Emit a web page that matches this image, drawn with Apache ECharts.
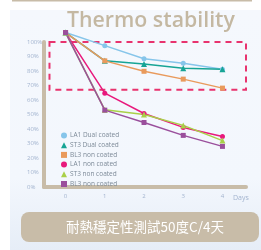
<!DOCTYPE html>
<html>
<head>
<meta charset="utf-8">
<script src="https://cdn.jsdelivr.net/npm/echarts@6.0.0/dist/echarts.min.js"></script>
<style>
  html, body { margin: 0; padding: 0; background: #fff; }
  #chart { width: 261px; height: 250px; }
</style>
</head>
<body>
<div id="chart"></div>
<script>
// 数据
const days = [0, 1, 2, 3, 4];
const yTicks = [0, 10, 20, 30, 40, 50, 60, 70, 80, 90, 100];
const seriesNames = ['LA1 Dual coated', 'ST3 Dual coated', 'BL3 non coated', 'LA1 non coated', 'ST3 non coated', 'BL3 non coated '];
const la1Dual = [106.5, 97.5, 88.5, 85.4, 81.2];
const st3Dual = [106.5, 87, 84.9, 81.9, 81.2];
const bl3Orange = [106.5, 87, 79.8, 74.4, 68.2];
const la1Non = [106.5, 64.7, 50.7, 41.1, 34.9];
const st3Non = [106.5, 53.2, 50.0, 42.5, 32];
const bl3Non = [106.5, 53, 44.5, 35.6, 28];
const highlightBox = [[-0.41, 106.5], [4.6, 67]];

const tan = '#c8bca8';
const colors = ['#86c5ea', '#17a495', '#e99a5c', '#e8197c', '#a9d048', '#9a4f9c'];
const symbols = ['circle', 'triangle', 'rect', 'circle', 'triangle', 'rect'];
const allData = [la1Dual, st3Dual, bl3Orange, la1Non, st3Non, bl3Non];

const chart = echarts.init(document.getElementById('chart'));

const series = allData.map((vals, i) => {
    const s = {
        name: seriesNames[i],
        type: 'line',
        data: days.map((d, j) => [d, vals[j]]),
        symbol: symbols[i],
        symbolSize: symbols[i] === 'triangle' ? 6 : 5,
        clip: false,
        lineStyle: { width: 1.5, color: colors[i] },
        itemStyle: { color: colors[i] },
        emphasis: { disabled: true }
    };
    if (i === 0) {
        s.markArea = {
            silent: true,
            label: { show: false },
            itemStyle: { color: 'rgba(0,0,0,0)', borderColor: '#e8336e', borderWidth: 2, borderType: [6, 5] },
            data: [[{ coord: highlightBox[0] }, { coord: highlightBox[1] }]]
        };
    }
    return s;
});

chart.setOption({
    animation: false,
    textStyle: { fontFamily: 'Open Sans' },
    graphic: [
        { type: 'rect', z: -10, shape: { x: 10, y: 10, width: 251, height: 240 },
          style: { fill: new echarts.graphic.LinearGradient(0, 0, 0, 1, [{ offset: 0, color: '#f5f8fd' }, { offset: 0.7, color: '#f3f7fd' }, { offset: 1, color: '#e6edf7' }]) } },
        { type: 'rect', z: -10, shape: { x: 12, y: 0, width: 240, height: 1.5 }, style: { fill: tan } },
        { type: 'rect', shape: { x: 21, y: 212, width: 238, height: 30, r: 8 }, style: { fill: tan } },
        { type: 'text', x: 145, y: 227, style: { text: '耐熱穩定性測試50度C/4天', fill: '#fff', font: '13.5px "Noto Sans CJK TC"', align: 'center', verticalAlign: 'middle' } }
    ],
    title: {
        text: 'Thermo stability', left: 62, top: 5,
        textStyle: { color: '#c4b8a2', fontSize: 21.3, fontWeight: 600, fontFamily: 'Open Sans' }
    },
    legend: {
        orient: 'vertical', left: 56, top: 127,
        itemWidth: 6, itemHeight: 6, itemGap: 2.7,
        textStyle: { fontSize: 6.5, color: '#7d8a98', padding: [0, 0, 0, -2] },
        data: seriesNames.map((n, i) => ({ name: n, icon: symbols[i] }))
    },
    grid: { left: 44, right: 15, top: 42, bottom: 63, containLabel: false },
    xAxis: {
        type: 'value', min: -0.55, max: 4.6, position: 'bottom',
        name: 'Days', nameLocation: 'end', nameGap: -13,
        nameTextStyle: { color: '#a3b4cf', fontSize: 7, verticalAlign: 'top', padding: [7, 0, 0, 0] },
        axisLine: { onZero: false, lineStyle: { color: tan, width: 4 } },
        axisTick: { show: false },
        splitLine: { show: false },
        axisLabel: { customValues: days, color: '#a3b4cf', fontSize: 6, margin: 6 }
    },
    yAxis: {
        type: 'value', min: 0, max: 100, interval: 10, position: 'left',
        axisLine: { show: true, onZero: false, lineStyle: { color: tan, width: 4 } },
        axisTick: { show: false },
        splitLine: { show: false },
        axisLabel: { customValues: yTicks, formatter: '{value}%', align: 'left', margin: 17, color: '#a3b4cf', fontSize: 6 }
    },
    series: series
});
</script>
</body>
</html>
